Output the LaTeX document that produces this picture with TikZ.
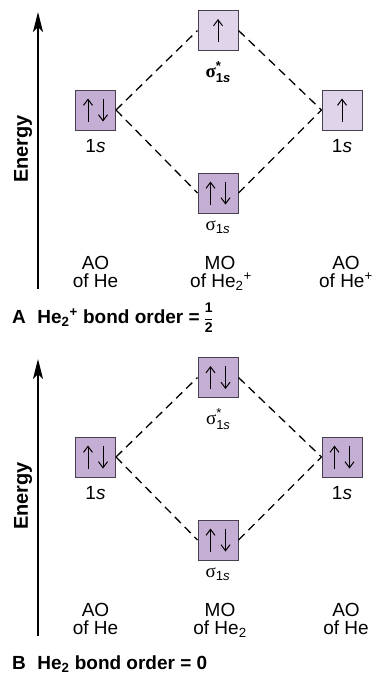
\documentclass[tikz,border=0pt]{standalone}
\usepackage{fontspec}
\setmainfont{Liberation Sans}
\newfontfamily\greekserif{Liberation Serif}
\usetikzlibrary{arrows.meta}
\definecolor{mofill}{RGB}{196,174,211}
\definecolor{molight}{RGB}{223,212,233}
\definecolor{boxline}{RGB}{72,64,78}
\newcommand\ArrUp[2]{\draw[spinarr] ([shift={(#2,11.5)}]#1.center) -- ([shift={(#2,-11.5)}]#1.center);}
\newcommand\ArrDn[2]{\draw[spinarr] ([shift={(#2,-11.5)}]#1.center) -- ([shift={(#2,11.5)}]#1.center);}
\newcommand\sigstar{{\greekserif σ}\raisebox{-5.5pt}{\fontsize{13}{10.5}\selectfont\begin{tabular}[b]{@{}l@{}}*\\1\textit{s}\end{tabular}}}
\newcommand\sigplain{{\greekserif σ}\textsubscript{1\textit{s}}}
\newcommand\halffrac{\raisebox{-9pt}{\fontsize{14}{11}\selectfont\bfseries\begin{tabular}[b]{@{}c@{}}1\\[-3.5pt]\rule{7pt}{1.3pt}\\[-1pt]2\end{tabular}}}
\begin{document}
\begin{tikzpicture}[x=1pt,y=-1pt,
  obox/.style={draw=boxline, line width=1pt, minimum size=40pt, inner sep=0pt},
  darkbox/.style={obox, fill=mofill},
  lightbox/.style={obox, fill=molight},
  spinarr/.style={line width=1pt, -{Straight Barb[length=6pt,width=9pt]}},
  link/.style={line width=1.3pt, dash pattern=on 8.5pt off 5.5pt},
  energyarr/.style={line width=1.3pt, -{Stealth[length=20pt,width=10pt,inset=5pt]}},
  lbl/.style={font=\fontsize{19}{20}\selectfont, anchor=base, inner sep=0pt},
  captxt/.style={font=\fontsize{19}{20}\selectfont\bfseries, anchor=base west, inner sep=0pt},
  elbl/.style={font=\fontsize{20}{20}\selectfont\bfseries, rotate=90, inner sep=0pt}
]
\path[use as bounding box] (0,0) rectangle (374,675);

% ---------- Panel A ----------
\coordinate (eAbot) at (38,289);
\coordinate (eAtop) at (38,12);
\draw[energyarr] (eAbot) -- (eAtop);
\node[elbl] (enA) at (23,149) {Energy};

\node[darkbox]  (aoLA) at (95.5,110) {};
\node[lightbox] (sgsA) at (218,30.5) {};
\node[lightbox] (aoRA) at (342,110) {};
\node[darkbox]  (sgA)  at (218,193) {};
\ArrUp{aoLA}{-7.5}\ArrDn{aoLA}{7.5}
\ArrUp{sgsA}{0}
\ArrUp{aoRA}{0}
\ArrUp{sgA}{-7.5}\ArrDn{sgA}{7.5}

\draw[link] (aoLA.east) -- (sgsA.west);
\draw[link] (aoLA.east) -- (sgA.west);
\draw[link] (sgsA.east) -- (aoRA.west);
\draw[link] (sgA.east) -- (aoRA.west);

\node[lbl] (l1A) at (95.5,152) {1\textit{s}};
\node[lbl] (l2A) at (342,152) {1\textit{s}};
\node[lbl, font=\fontsize{19}{20}\selectfont\bfseries] (lsA) at (218,77) {\sigstar};
\node[lbl] (lpA) at (218,230) {\sigplain};

\node[lbl] (aoa1) at (95.5,269) {AO};
\node[lbl] (aoa2) at (95.5,287) {of He};
\node[lbl] (moa1) at (220,269) {MO};
\node[lbl] (moa2) at (221,287) {of He\textsubscript{2}\textsuperscript{+}};
\node[lbl] (aob1) at (346,269) {AO};
\node[lbl] (aob2) at (346,287) {of He\textsuperscript{+}};

\node[captxt] (capA) at (12,323) {A\hspace{0.6em}He\textsubscript{2}\textsuperscript{+} bond order = \halffrac};

% ---------- Panel B ----------
\coordinate (eBbot) at (38,636);
\coordinate (eBtop) at (38,359);
\draw[energyarr] (eBbot) -- (eBtop);
\node[elbl] (enB) at (23,496) {Energy};

\node[darkbox] (aoLB) at (95.5,457) {};
\node[darkbox] (sgsB) at (218,377.5) {};
\node[darkbox] (aoRB) at (342,457) {};
\node[darkbox] (sgB)  at (218,540) {};
\ArrUp{aoLB}{-7.5}\ArrDn{aoLB}{7.5}
\ArrUp{sgsB}{-7.5}\ArrDn{sgsB}{7.5}
\ArrUp{aoRB}{-7.5}\ArrDn{aoRB}{7.5}
\ArrUp{sgB}{-7.5}\ArrDn{sgB}{7.5}

\draw[link] (aoLB.east) -- (sgsB.west);
\draw[link] (aoLB.east) -- (sgB.west);
\draw[link] (sgsB.east) -- (aoRB.west);
\draw[link] (sgB.east) -- (aoRB.west);

\node[lbl] (l1B) at (95.5,499) {1\textit{s}};
\node[lbl] (l2B) at (342,499) {1\textit{s}};
\node[lbl] (lsB) at (218,424) {\sigstar};
\node[lbl] (lpB) at (218,577) {\sigplain};

\node[lbl] (aoc1) at (95.5,616) {AO};
\node[lbl] (aoc2) at (95.5,634) {of He};
\node[lbl] (mob1) at (220,616) {MO};
\node[lbl] (mob2) at (220,634) {of He\textsubscript{2}};
\node[lbl] (aod1) at (346,616) {AO};
\node[lbl] (aod2) at (346,634) {of He};

\node[captxt] (capB) at (12,669) {B\hspace{0.6em}He\textsubscript{2} bond order = 0};
\end{tikzpicture}
\end{document}
